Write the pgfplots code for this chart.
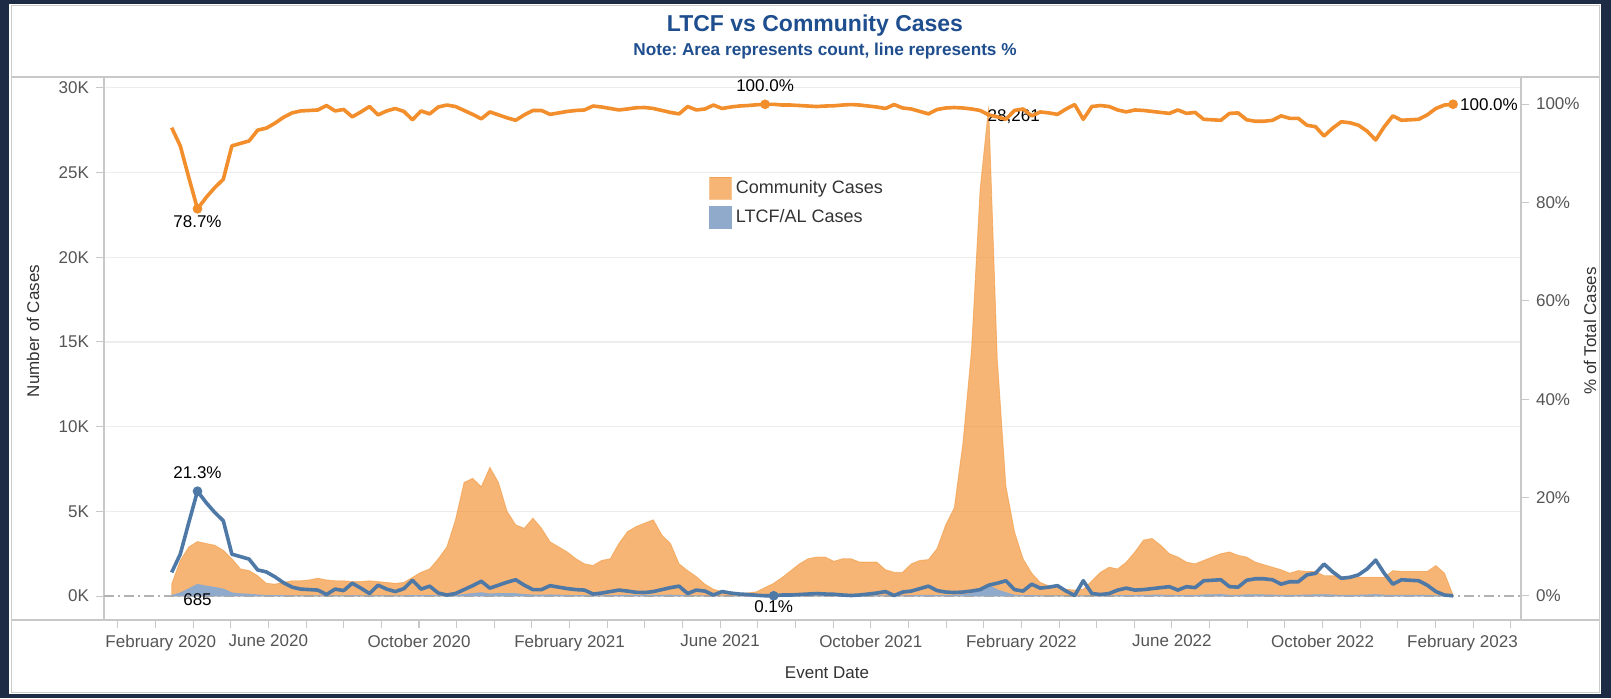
\documentclass[border=0pt]{standalone}
\usepackage{pgfplots}
\pgfplotsset{compat=1.18}
\usepackage{pgfplotstable}
\usepackage{fontspec}
\setmainfont{Liberation Sans}
\frenchspacing
\definecolor{tabor}{HTML}{F28E2B}
\definecolor{tabbl}{HTML}{4E79A7}
\definecolor{ltcfarea}{HTML}{8FAACB}
\definecolor{titleblue}{HTML}{1F4E8F}
\definecolor{navyframe}{HTML}{1E2B45}
\definecolor{panel}{HTML}{C8C8C8}
\definecolor{ticklbl}{HTML}{555555}
\definecolor{axtitle}{HTML}{333333}

\pgfplotstableread{
wk ltcf comm lpct cpct
0 34 666 4.8 95.2
1 179 1921 8.5 91.5
2 435 2465 15.0 85.0
3 685 2531 21.3 78.7
4 589 2511 19.0 81.0
5 510 2490 17.0 83.0
6 413 2287 15.3 84.7
7 187 2013 8.5 91.5
8 128 1472 8.0 92.0
9 113 1387 7.5 92.5
10 64 1136 5.3 94.7
11 37 713 4.9 95.1
12 27 673 3.9 96.1
13 22 778 2.7 97.3
14 16 884 1.8 98.2
15 13 887 1.4 98.6
16 12 938 1.3 98.7
17 13 1037 1.2 98.8
18 3 947 0.3 99.7
19 13 887 1.4 98.6
20 10 890 1.1 98.9
21 22 828 2.6 97.4
22 14 836 1.6 98.4
23 5 895 0.5 99.5
24 19 831 2.2 97.8
25 11 789 1.4 98.6
26 7 743 0.9 99.1
27 12 788 1.5 98.5
28 35 1065 3.2 96.8
29 20 1380 1.4 98.6
30 32 1568 2.0 98.0
31 13 2187 0.6 99.4
32 6 2894 0.2 99.8
33 23 4477 0.5 99.5
34 87 6613 1.3 98.7
35 146 6804 2.1 97.9
36 194 6256 3.0 97.0
37 122 7478 1.6 98.4
38 147 6553 2.2 97.8
39 140 4860 2.8 97.2
40 139 4061 3.3 96.7
41 88 3912 2.2 97.8
42 60 4540 1.3 98.7
43 52 3948 1.3 98.7
44 67 3133 2.1 97.9
45 52 2848 1.8 98.2
46 39 2561 1.5 98.5
47 29 2171 1.3 98.7
48 23 1877 1.2 98.8
49 7 1793 0.4 99.6
50 13 2087 0.6 99.4
51 20 2180 0.9 99.1
52 37 3063 1.2 98.8
53 38 3762 1.0 99.0
54 31 4069 0.75 99.25
55 30 4270 0.7 99.3
56 41 4459 0.9 99.1
57 47 3553 1.3 98.7
58 53 3047 1.7 98.3
59 38 1862 2.0 98.0
60 8 1492 0.5 99.5
61 14 1136 1.2 98.8
62 7 693 1.0 99.0
63 1 399 0.2 99.8
64 2 248 0.9 99.1
65 1 199 0.6 99.4
66 1 149 0.4 99.6
67 1 179 0.3 99.7
68 0 250 0.15 99.85
69 0 500 0.05 99.95
70 0 750 0.05 99.95
71 2 1098 0.2 99.8
72 3 1497 0.2 99.8
73 6 1894 0.3 99.7
74 9 2191 0.4 99.6
75 12 2288 0.5 99.5
76 9 2291 0.4 99.6
77 7 2043 0.35 99.65
78 4 2196 0.2 99.8
79 2 2198 0.1 99.9
80 4 1996 0.2 99.8
81 8 1992 0.4 99.6
82 12 1988 0.6 99.4
83 14 1536 0.9 99.1
84 1 1399 0.1 99.9
85 11 1389 0.8 99.2
86 19 1881 1.0 99.0
87 32 2068 1.5 98.5
88 43 2107 2.0 98.0
89 31 2769 1.1 98.9
90 34 4166 0.8 99.2
91 36 5164 0.7 99.3
92 72 8928 0.8 99.2
93 145 14355 1.0 99.0
94 312 23688 1.3 98.7
95 636 28261 2.2 97.8
96 364 13636 2.6 97.4
97 202 6298 3.1 96.9
98 49 3751 1.3 98.7
99 22 2178 1.0 99.0
100 32 1318 2.4 97.6
101 13 787 1.6 98.4
102 11 589 1.8 98.2
103 11 489 2.1 97.9
104 4 396 1.0 99.0
105 0 350 0.1 99.9
106 12 388 3.1 96.9
107 5 895 0.5 99.5
108 4 1396 0.3 99.7
109 9 1691 0.5 99.5
110 19 1581 1.2 98.8
111 32 1968 1.6 98.4
112 31 2569 1.2 98.8
113 43 3257 1.3 98.7
114 51 3349 1.5 98.5
115 51 2949 1.7 98.3
116 48 2452 1.9 98.1
117 28 2272 1.2 98.8
118 38 1962 1.9 98.1
119 32 1868 1.7 98.3
120 65 2035 3.1 96.9
121 74 2226 3.2 96.8
122 83 2417 3.3 96.7
123 49 2551 1.9 98.1
124 43 2357 1.8 98.2
125 74 2226 3.2 96.8
126 70 1930 3.5 96.5
127 65 1785 3.5 96.5
128 56 1644 3.3 96.7
129 37 1513 2.4 97.6
130 39 1311 2.9 97.1
131 44 1456 2.9 97.1
132 62 1388 4.3 95.7
133 67 1383 4.6 95.4
134 78 1122 6.5 93.5
135 59 1141 4.9 95.1
136 41 1109 3.6 96.4
137 44 1106 3.8 96.2
138 47 1053 4.3 95.7
139 61 1039 5.5 94.5
140 80 1020 7.3 92.7
141 51 1049 4.6 95.4
142 36 1464 2.4 97.6
143 48 1402 3.3 96.7
144 46 1404 3.2 96.8
145 45 1405 3.1 96.9
146 32 1418 2.2 97.8
147 16 1784 0.9 99.1
148 3 1347 0.2 99.8
149 0 50 0.04 99.96
}\data

\begin{document}
\begin{tikzpicture}
\fill[navyframe] (0pt,0pt) rectangle (805.5pt,349pt);
\fill[white] (4.5pt,2pt) rectangle (800.5pt,347pt);
\draw[gray!40, line width=0.5pt] (5.5pt,3pt) rectangle (799.5pt,346pt);
\draw[panel, line width=0.6pt] (5.5pt,310.5pt) -- (799.5pt,310.5pt);
\draw[panel, line width=0.6pt] (5.5pt,39pt) -- (799.5pt,39pt);

\node[font=\bfseries\fontsize{11.5}{13}\selectfont, text=titleblue] at (407.5pt,336pt) {LTCF vs Community Cases};
\node[font=\bfseries\fontsize{8.6}{10}\selectfont, text=titleblue] at (412.5pt,323.3pt) {Note: Area represents count, line represents \%};
\node[rotate=90, font=\fontsize{8.5}{10}\selectfont, text=axtitle] at (16.5pt,183.5pt) {Number of Cases};
\node[rotate=90, font=\fontsize{8.5}{10}\selectfont, text=axtitle] at (795pt,183.5pt) {\% of Total Cases};
\node[font=\fontsize{8.5}{10}\selectfont, text=axtitle] at (413.5pt,12.5pt) {Event Date};

\begin{axis}[
  at={(52pt,39pt)}, anchor=south west, scale only axis,
  width=708.5pt, height=271.5pt,
  xmin=-7.87, xmax=156.9, ymin=-1417, ymax=30640,
  scaled y ticks=false,
  axis line style={panel, line width=0.6pt},
  xtick={-6.27,11.24,28.76,46.27,63.78,81.29,98.80,116.31,133.83,151.34},
  xticklabels={\hspace*{43pt}February 2020, June 2020, October 2020, February 2021, June 2021, October 2021, February 2022, June 2022, October 2022, February 2023\hspace*{10.7pt}},
  minor xtick={-6.27,-1.892,...,156.5},
  xtick pos=left, ytick pos=left,
  tick align=outside,
  major tick length=4pt, minor tick length=4pt,
  every tick/.style={panel, line width=0.5pt},
  ytick={5000,10000,15000,20000,25000,30000},
  yticklabels={5K,10K,15K,20K,25K,30K},
  extra y ticks={0}, extra y tick labels={0K},
  extra y tick style={major grid style={gray!60, line width=0.6pt, dash pattern=on 5pt off 2pt on 1pt off 2pt}},
  ymajorgrids, grid style={gray!14, line width=0.6pt},
  tick label style={font=\fontsize{8.5}{10}\selectfont, text=ticklbl},
  legend style={at={(0.427,0.818)}, anchor=north west, draw=none, fill=none, inner sep=0pt,
     font=\fontsize{9}{10}\selectfont, text=axtitle, row sep=2.5pt},
  legend cell align=left,
  legend image code/.code={\fill[#1] (0pt,-5.4pt) rectangle (10.8pt,5.4pt);},
]
\addplot[draw=tabor, draw opacity=0.5, line width=0.4pt, fill=tabor, fill opacity=0.65]
  table[x=wk, y expr=\thisrow{ltcf}+\thisrow{comm}]{\data} \closedcycle;
\addlegendentry{Community Cases}
\addplot[draw=ltcfarea, line width=0.4pt, fill=ltcfarea]
  table[x=wk, y=ltcf]{\data} \closedcycle;
\addlegendentry{LTCF/AL Cases}
\addplot[draw=none, mark=none, nodes near coords, point meta=explicit symbolic,
  nodes near coords style={anchor=north, yshift=-1pt, text=black, font=\fontsize{8.5}{10}\selectfont}]
  coordinates {(3,685) [685]};
\addplot[draw=none, mark=none, nodes near coords, point meta=explicit symbolic,
  nodes near coords style={anchor=north west, xshift=-4pt, yshift=2pt, text=black, font=\fontsize{8.5}{10}\selectfont}]
  coordinates {(95,28897) [28{,}261]};
\end{axis}

\begin{axis}[
  at={(52pt,39pt)}, anchor=south west, scale only axis,
  width=708.5pt, height=271.5pt,
  xmin=-7.87, xmax=156.9, ymin=-4.88, ymax=105.5,
  hide x axis, axis y line*=right,
  axis line style={panel, line width=0.6pt},
  ytick={0,20,40,60,80,100},
  yticklabels={0\%,20\%,40\%,60\%,80\%,100\%},
  tick align=outside, major tick length=4pt,
  every tick/.style={panel, line width=0.5pt},
  tick label style={font=\fontsize{8.5}{10}\selectfont, text=ticklbl},
]
\addplot[tabor, line width=1.8pt, line join=round] table[x=wk, y=cpct]{\data};
\addplot[tabbl, line width=1.8pt, line join=round] table[x=wk, y=lpct]{\data};
\addplot[only marks, mark=*, mark size=2.2pt, tabor, nodes near coords, point meta=explicit symbolic,
  nodes near coords style={anchor=north, text=black, font=\fontsize{8.5}{10}\selectfont}]
  coordinates {(3,78.7) [78.7\%]};
\addplot[only marks, mark=*, mark size=2.2pt, tabor, nodes near coords, point meta=explicit symbolic,
  nodes near coords style={anchor=south, yshift=3pt, text=black, font=\fontsize{8.5}{10}\selectfont}]
  coordinates {(69,99.95) [100.0\%]};
\addplot[only marks, mark=*, mark size=2.2pt, tabor, nodes near coords, point meta=explicit symbolic,
  nodes near coords style={anchor=west, text=black, font=\fontsize{8.5}{10}\selectfont}]
  coordinates {(149,99.96) [100.0\%]};
\addplot[only marks, mark=*, mark size=2.2pt, tabbl, nodes near coords, point meta=explicit symbolic,
  nodes near coords style={anchor=south, yshift=2.5pt, text=black, font=\fontsize{8.5}{10}\selectfont}]
  coordinates {(3,21.3) [21.3\%]};
\addplot[only marks, mark=*, mark size=2.2pt, tabbl, nodes near coords, point meta=explicit symbolic,
  nodes near coords style={anchor=north, yshift=1pt, text=black, font=\fontsize{8.5}{10}\selectfont}]
  coordinates {(70,0.05) [0.1\%]};
\end{axis}
\end{tikzpicture}
\end{document}
